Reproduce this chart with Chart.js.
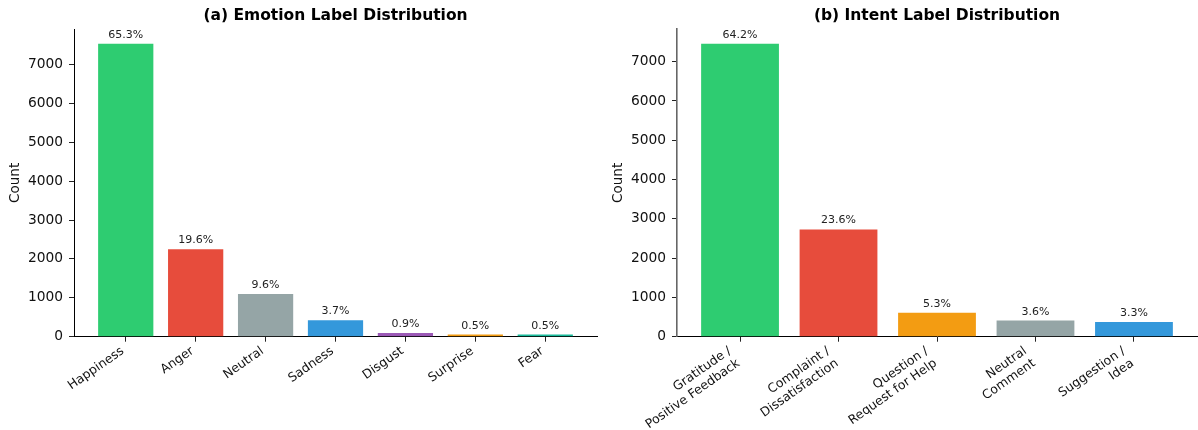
<!DOCTYPE html>
<html><head><meta charset="utf-8">
<script src="https://cdn.jsdelivr.net/npm/chart.js@4.4.1/dist/chart.umd.min.js"></script>
<style>
html,body{margin:0;padding:0;background:#fff;}
#wrap{position:relative;width:1198px;height:430px;overflow:hidden;}
#c1{position:absolute;left:0;top:0;}
#c2{position:absolute;left:600px;top:0;}
</style></head><body>
<div id="wrap"><canvas id="c1" width="600" height="430"></canvas><canvas id="c2" width="598" height="430"></canvas></div>
<script>
const emotionLabels = ['Happiness','Anger','Neutral','Sadness','Disgust','Surprise','Fear'];
const emotionCounts = [7534, 2250, 1100, 420, 95, 55, 55];
const emotionPct = ['65.3%','19.6%','9.6%','3.7%','0.9%','0.5%','0.5%'];
const emotionColors = ['#2ecc71','#e74c3c','#95a5a6','#3498db','#9b59b6','#f39c12','#1abc9c'];

const intentLabels = [['Gratitude /','Positive Feedback'],['Complaint /','Dissatisfaction'],['Question /','Request for Help'],['Neutral','Comment'],['Suggestion /','Idea']];
const intentCounts = [7459, 2730, 610, 410, 375];
const intentPct = ['64.2%','23.6%','5.3%','3.6%','3.3%'];
const intentColors = ['#2ecc71','#e74c3c','#f39c12','#95a5a6','#3498db'];

const yTickValues = [0, 1000, 2000, 3000, 4000, 5000, 6000, 7000];

const FONT = '"DejaVu Sans", "Liberation Sans", sans-serif';
Chart.defaults.font.family = FONT;

const pctPlugin = {
  id: 'pct',
  afterDatasetsDraw(chart, args, opts) {
    const ctx = chart.ctx;
    const meta = chart.getDatasetMeta(0);
    ctx.save();
    ctx.font = '11px ' + FONT;
    ctx.fillStyle = '#222';
    ctx.textAlign = 'center';
    ctx.textBaseline = 'alphabetic';
    meta.data.forEach((bar, i) => ctx.fillText(opts.labels[i], bar.x, bar.y - 6));
    ctx.restore();
  }
};

function makeChart(el, title, labels, counts, pct, colors, o) {
  const n = labels.length;
  return new Chart(document.getElementById(el), {
    type: 'bar',
    data: {
      datasets: [{
        data: counts.map((v, i) => ({x: i, y: v})),
        backgroundColor: colors,
        borderWidth: 0,
        barPercentage: 0.79,
        categoryPercentage: 1.0
      }]
    },
    plugins: [pctPlugin],
    options: {
      responsive: false,
      animation: false,
      layout: {padding: {left: 0, right: o.padRight, top: 0, bottom: 0}},
      plugins: {
        legend: {display: false},
        tooltip: {enabled: false},
        title: {display: true, text: title, fullSize: false, color: '#000',
          font: {size: 15.5, weight: 'bold'}, padding: {top: 7, bottom: 3.4}},
        pct: {labels: pct}
      },
      scales: {
        x: {
          type: 'linear', min: -0.74 + o.xExtra, max: n - 1 + 0.74 - o.xExtra, offset: false,
          afterBuildTicks: s => { s.ticks = labels.map((_, i) => ({value: i})); },
          afterFit: s => { s.height = 93.3; },
          grid: {display: true, drawOnChartArea: false, drawTicks: true, tickLength: 5, tickColor: '#222', offset: false},
          border: {display: true, color: '#000', width: 1},
          ticks: {autoSkip: false, maxRotation: 35, minRotation: 35, padding: 2, labelOffset: o.labelOffset,
            color: '#111', font: {size: 12.5}, callback: v => labels[v]}
        },
        y: {
          type: 'linear', min: 0, max: Math.max(...counts) * 1.05,
          afterBuildTicks: s => { s.ticks = yTickValues.filter(v => v <= s.max).map(v => ({value: v})); },
          afterFit: s => { s.width = o.yWidth; },
          grid: {display: true, drawOnChartArea: false, drawTicks: true, tickLength: 5, tickColor: '#222'},
          border: {display: true, color: o.spineColor, width: o.spineWidth},
          ticks: {padding: 6, color: '#111', font: {size: 13.8}, callback: v => String(v)},
          title: {display: true, text: 'Count', color: '#111', font: {size: 13.5}, padding: {top: o.titlePad, bottom: 0}}
        }
      }
    }
  });
}

makeChart('c1', '(a) Emotion Label Distribution', emotionLabels, emotionCounts, emotionPct, emotionColors,
  {yWidth: 74, padRight: 3, labelOffset: -3, titlePad: 7, spineColor: '#000', spineWidth: 1, xExtra: 0});
makeChart('c2', '(b) Intent Label Distribution', intentLabels, intentCounts, intentPct, intentColors,
  {yWidth: 77, padRight: 1, labelOffset: -10, titlePad: 10, spineColor: '#666', spineWidth: 1.6, xExtra: 0.1});
</script>
</body></html>
